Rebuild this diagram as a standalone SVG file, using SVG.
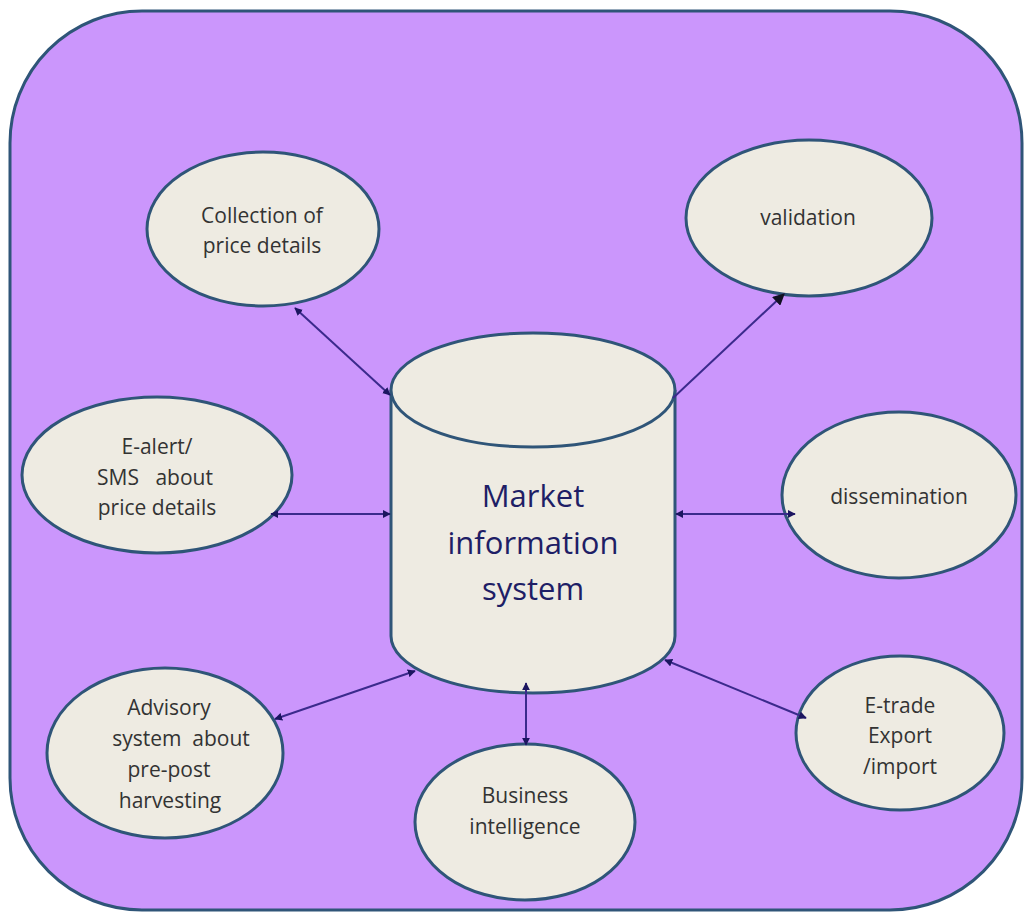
<svg xmlns="http://www.w3.org/2000/svg" width="1024" height="913" viewBox="0 0 1024 913">
<defs>
<style>
.bg{fill:#cb96fc;stroke:#2f5578;stroke-width:3}
.node{fill:#eeebe2;stroke:#2f5578;stroke-width:3}
.lbl{font-family:"Open Sans","Liberation Sans",sans-serif;font-size:21px;fill:#333333;text-anchor:middle}
.main{font-family:"Open Sans","Liberation Sans",sans-serif;font-size:31px;fill:#1e1e66;text-anchor:middle}
.conn{stroke:#3b2a8c;stroke-width:2;fill:none}
</style>
<marker id="sm" viewBox="0 0 10 10" refX="9" refY="5" markerWidth="4" markerHeight="4" orient="auto-start-reverse" markerUnits="strokeWidth">
<path d="M0,0 L10,5 L0,10 z" fill="#1c1660"/>
</marker>
<marker id="big" viewBox="0 0 10 10" refX="9" refY="5" markerWidth="6" markerHeight="6" orient="auto" markerUnits="strokeWidth">
<path d="M0,0 L10,5 L0,10 z" fill="#111122"/>
</marker>
</defs>
<rect class="bg" x="10" y="11" width="1012" height="899" rx="132" ry="132"/>
<g id="mis">
<path class="node" d="M391,390 L391,636 A142,57 0 0 0 675,636 L675,390"/>
<ellipse class="node" cx="533" cy="390" rx="142" ry="57"/>
<text class="main" x="533" y="507">Market</text>
<text class="main" x="533" y="554">information</text>
<text class="main" x="533" y="600">system</text>
</g>
<g id="collection">
<ellipse class="node" cx="263" cy="229" rx="116" ry="77"/>
<text class="lbl" x="262" y="223">Collection of</text>
<text class="lbl" x="262" y="253">price details</text>
</g>
<g id="validation">
<ellipse class="node" cx="809" cy="218" rx="123" ry="78"/>
<text class="lbl" x="808" y="225">validation</text>
</g>
<g id="ealert">
<ellipse class="node" cx="157" cy="475" rx="135" ry="78"/>
<text class="lbl" x="157" y="454">E-alert/</text>
<text class="lbl" x="155" y="485" xml:space="preserve">SMS   about</text>
<text class="lbl" x="157" y="515">price details</text>
</g>
<g id="dissemination">
<ellipse class="node" cx="899" cy="495" rx="117" ry="83"/>
<text class="lbl" x="899" y="504">dissemination</text>
</g>
<g id="advisory">
<ellipse class="node" cx="165" cy="753" rx="118" ry="85"/>
<text class="lbl" x="169" y="715">Advisory</text>
<text class="lbl" x="181" y="746" xml:space="preserve">system  about</text>
<text class="lbl" x="169" y="777">pre-post</text>
<text class="lbl" x="170" y="808">harvesting</text>
</g>
<g id="business">
<ellipse class="node" cx="525" cy="822" rx="110" ry="78"/>
<text class="lbl" x="525" y="803">Business</text>
<text class="lbl" x="525" y="834">intelligence</text>
</g>
<g id="etrade">
<ellipse class="node" cx="900" cy="733" rx="104" ry="77"/>
<text class="lbl" x="900" y="713">E-trade</text>
<text class="lbl" x="900" y="743">Export</text>
<text class="lbl" x="900" y="774">/import</text>
</g>
<g id="connectors">
<line class="conn" x1="295" y1="308" x2="390" y2="395" marker-start="url(#sm)" marker-end="url(#sm)"/>
<line class="conn" x1="673" y1="398" x2="784" y2="294" marker-end="url(#big)"/>
<line class="conn" x1="271" y1="514" x2="390" y2="514" marker-start="url(#sm)" marker-end="url(#sm)"/>
<line class="conn" x1="676" y1="514" x2="795" y2="514" marker-start="url(#sm)" marker-end="url(#sm)"/>
<line class="conn" x1="275" y1="719" x2="415" y2="671" marker-start="url(#sm)" marker-end="url(#sm)"/>
<line class="conn" x1="526" y1="683" x2="526" y2="745" marker-start="url(#sm)" marker-end="url(#sm)"/>
<line class="conn" x1="665" y1="660" x2="806" y2="718" marker-start="url(#sm)" marker-end="url(#sm)"/>
</g>
</svg>
